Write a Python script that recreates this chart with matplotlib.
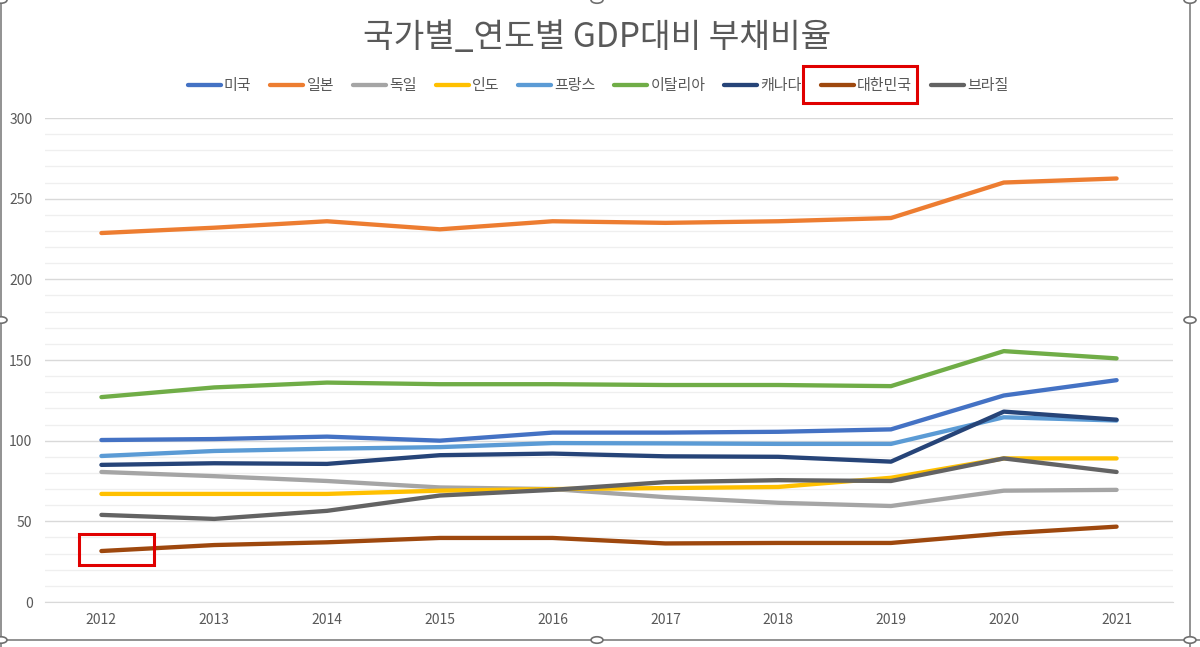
import matplotlib
matplotlib.use("Agg")
import matplotlib.pyplot as plt
from matplotlib.patches import Rectangle, Circle
from matplotlib.lines import Line2D

plt.rcParams['font.family'] = ['Noto Sans CJK KR', 'DejaVu Sans']

years = ['2012', '2013', '2014', '2015', '2016', '2017', '2018', '2019', '2020', '2021']
countries = ['미국', '일본', '독일', '인도', '프랑스', '이탈리아', '캐나다', '대한민국', '브라질']

usa     = [100.4, 101, 102.5, 100, 105, 105, 105.5, 107, 128, 137.5]
japan   = [228.7, 232, 236, 231, 236, 235, 236, 238, 260, 262.5]
germany = [80.6, 78, 75, 71, 70, 65, 61.5, 59.5, 69, 69.5]
india   = [67, 67, 67, 69, 70, 70.6, 71.3, 77, 89, 89]
france  = [90.5, 93.6, 95, 96, 98.5, 98.3, 98, 98, 114.5, 112.5]
italy   = [127, 133, 136, 135, 135, 134.5, 134.5, 133.8, 155.5, 151]
canada  = [85, 86, 85.6, 91, 92, 90.3, 90, 87, 118, 113]
korea   = [31.6, 35.3, 37, 39.7, 39.7, 36.3, 36.6, 36.6, 42.5, 46.7]
brazil  = [54, 51.5, 56.5, 66, 69.5, 74.3, 75.5, 75, 89, 80.6]

series = [usa, japan, germany, india, france, italy, canada, korea, brazil]
colors = ['#4472C4', '#ED7D31', '#A5A5A5', '#FFC000', '#5B9BD5',
          '#70AD47', '#264478', '#9E480E', '#636363']

W, H = 1200, 647
fig = plt.figure(figsize=(W / 100, H / 100), dpi=100)
ax = fig.add_axes([45 / W, 1 - 602 / H, (1173 - 45) / W, (602 - 118) / H])

x = list(range(len(years)))
handles = []
for name, vals, c in zip(countries, series, colors):
    ln, = ax.plot(x, vals, color=c, lw=3.1, solid_capstyle='round',
                  solid_joinstyle='round', label=name, zorder=3)
    handles.append(ln)

ax.set_xlim(-0.5, len(years) - 0.5)
ax.set_ylim(0, 300)
ax.set_yticks(range(0, 301, 50))
ax.set_yticks(range(0, 301, 10), minor=True)
ax.set_xticks(x)
ax.set_xticklabels(years)
ax.grid(which='major', axis='y', color='#D9D9D9', lw=1.0, zorder=0)
ax.grid(which='minor', axis='y', color='#EFEFEF', lw=0.9, zorder=0)
ax.tick_params(axis='both', which='both', length=0, labelsize=10, labelcolor='#595959')
ax.tick_params(axis='y', pad=9)
ax.tick_params(axis='x', pad=8)
for s in ['top', 'right', 'left']:
    ax.spines[s].set_visible(False)
ax.spines['bottom'].set_color('#D9D9D9')
ax.set_axisbelow(True)

fig.text(597 / W, 1 - 38 / H, '국가별_연도별 GDP대비 부채비율', ha='center', va='center',
         fontsize=24, color='#595959')

leg = fig.legend(handles=handles, labels=countries, loc='center', ncol=9,
                 bbox_to_anchor=(598 / W, 1 - 86 / H), frameon=False,
                 fontsize=10.8, handlelength=2.2, handletextpad=0.2, columnspacing=1.27,
                 labelcolor='#595959')

# red highlight boxes
fig.patches.append(Rectangle((803 / W, 1 - 103 / H), 114 / W, 37 / H, transform=fig.transFigure,
                             fill=False, edgecolor='#E00000', lw=2.2, zorder=10))
ax.add_patch(Rectangle((-0.2, 23), 0.666, 19, fill=False, edgecolor='#E00000', lw=2.2,
                       zorder=10, clip_on=False))

# chart frame and selection handles
frame_col = '#7F7F7F'
fig.add_artist(Line2D([1 / W, 1 / W], [0, 1], transform=fig.transFigure, color=frame_col, lw=1.2))
fig.add_artist(Line2D([1190 / W, 1190 / W], [0, 1], transform=fig.transFigure, color=frame_col, lw=1.2))
fig.add_artist(Line2D([0, 1], [1 - 640 / H, 1 - 640 / H], transform=fig.transFigure, color=frame_col, lw=1.2))
for hx, hy in [(1, 0), (597, 0), (1190, 0), (1, 320), (1190, 320), (1, 640), (597, 640), (1190, 640)]:
    fig.add_artist(Circle((hx / W, 1 - hy / H), 6 / W, transform=fig.transFigure,
                          facecolor='white', edgecolor='#6F6F6F', lw=1.2, zorder=20))

fig.savefig('out.png', dpi=100)
